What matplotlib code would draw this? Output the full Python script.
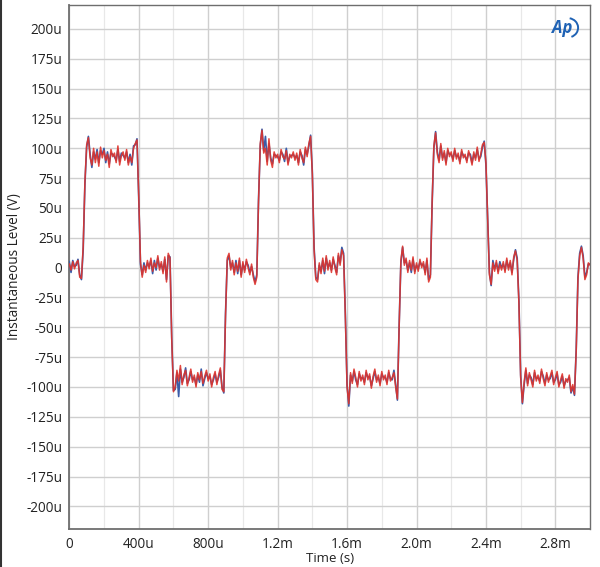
"""Scope-style step trace, two channels overlaid (AP analyzer look)."""

import matplotlib

matplotlib.use("Agg")
import matplotlib.pyplot as plt
from matplotlib.lines import Line2D
from matplotlib.patches import Arc

plt.rcParams["font.family"] = ["Open Sans", "DejaVu Sans"]

# time step of the samples below, microseconds (t = 0 .. 3000 us)
DT_US = 10

# channel 1 (blue), microvolts, one row per 100 us
CH1_UV = [
    5, -4, 6, 1, 2, 7, -6, -10, 15, 70,
    101, 110, 95, 84, 97, 91, 99, 88, 98, 95,
    100, 88, 97, 87, 96, 95, 93, 90, 99, 89,
    96, 94, 92, 97, 88, 95, 86, 102, 103, 108,
    58, 3, -6, 4, -2, 4, 1, 6, -5, 6,
    -2, 8, 0, 3, -3, 7, -10, 10, 9, -58,
    -103, -102, -88, -108, -85, -96, -92, -84, -97, -94,
    -87, -94, -92, -98, -90, -96, -85, -99, -93, -88,
    -93, -91, -98, -94, -89, -96, -92, -86, -100, -105,
    -38, 6, 10, 0, 4, -4, 6, -5, 6, -6,
    3, -2, 5, 2, -4, 1, -6, -12, -6, 57,
    102, 116, 98, 110, 89, 104, 92, 87, 95, 94,
    93, 90, 97, 95, 89, 100, 88, 93, 94, 95,
    92, 94, 88, 97, 94, 86, 99, 95, 102, 111,
    80, 17, -8, -10, 2, -3, 6, -5, 8, 0,
    4, -2, 7, 2, -4, 10, 4, 17, 12, -38,
    -98, -116, -90, -95, -87, -94, -98, -89, -93, -92,
    -96, -88, -92, -91, -99, -93, -87, -94, -92, -97,
    -89, -92, -92, -96, -88, -93, -94, -86, -98, -111,
    -48, 4, 17, 4, 6, -2, 4, -4, 7, -3,
    2, -1, 5, 2, 3, -4, 6, -10, -6, 53,
    100, 114, 97, 90, 102, 92, 96, 88, 98, 95,
    95, 91, 98, 93, 94, 89, 97, 94, 93, 90,
    96, 95, 88, 95, 92, 99, 91, 93, 101, 106,
    86, 42, -4, -15, 6, -1, 4, -3, 5, 0,
    3, -2, 6, 0, 4, -4, 7, 15, 8, -28,
    -90, -114, -98, -86, -97, -90, -92, -98, -88, -93,
    -92, -95, -87, -91, -97, -90, -94, -93, -88, -96,
    -94, -89, -98, -96, -91, -99, -95, -94, -92, -105,
    -100, -107, -68, -8, 12, 18, 10, -8, -4, 3,
    3,
]

# channel 2 (red), microvolts
CH2_UV = [
    3, -2, 5, -1, 4, 6, -8, -9, 18, 72,
    103, 109, 92, 86, 100, 88, 97, 85, 101, 92,
    98, 90, 95, 84, 99, 93, 96, 88, 102, 86,
    94, 97, 90, 99, 86, 93, 88, 100, 104, 107,
    60, 5, -8, 2, -4, 6, -1, 8, -3, 4,
    0, 10, -2, 5, -5, 9, -12, 12, 8, -60,
    -104, -100, -86, -95, -82, -98, -90, -86, -99, -92,
    -85, -96, -90, -100, -88, -94, -87, -97, -91, -86,
    -95, -89, -100, -92, -87, -98, -90, -84, -102, -104,
    -40, 8, 12, -2, 6, -6, 4, -3, 8, -8,
    5, -4, 7, 0, -6, 3, -8, -14, -8, 55,
    104, 115, 96, 100, 86, 108, 90, 84, 97, 92,
    95, 88, 99, 93, 91, 98, 86, 95, 92, 97,
    90, 96, 86, 99, 92, 88, 101, 93, 104, 110,
    78, 15, -10, -12, 4, -5, 8, -3, 10, -2,
    6, -4, 9, 0, -6, 12, 2, 15, 10, -40,
    -100, -114, -88, -97, -85, -92, -100, -87, -95, -90,
    -98, -86, -94, -89, -101, -91, -85, -96, -90, -99,
    -87, -94, -90, -98, -86, -95, -92, -88, -100, -110,
    -50, 6, 18, 2, 8, -4, 6, -2, 9, -5,
    4, -3, 7, 0, 5, -6, 8, -12, -8, 55,
    102, 113, 95, 88, 104, 90, 98, 86, 100, 93,
    97, 89, 100, 91, 96, 87, 99, 92, 95, 88,
    98, 93, 86, 97, 90, 101, 89, 95, 103, 105,
    88, 40, -6, -14, 4, -3, 6, -5, 3, -2,
    5, -4, 8, -2, 6, -6, 9, 14, 6, -30,
    -92, -113, -96, -84, -99, -88, -94, -100, -86, -95,
    -90, -97, -85, -93, -99, -88, -96, -91, -86, -98,
    -92, -87, -100, -94, -89, -101, -93, -96, -90, -104,
    -98, -106, -70, -10, 10, 17, 8, -10, -6, 4,
    2,
]

X_TICKS_US = [0, 400, 800, 1200, 1600, 2000, 2400, 2800]
X_TICK_LABELS = ["0", "400u", "800u", "1.2m", "1.6m", "2.0m", "2.4m", "2.8m"]
Y_TICKS_UV = list(range(-200, 201, 25))
Y_TICK_LABELS = ["0" if v == 0 else f"{v}u" for v in Y_TICKS_UV]

t_us = [i * DT_US for i in range(len(CH1_UV))]

fig = plt.figure(figsize=(6.0, 5.67), dpi=100)
ax = fig.add_axes([0.1155, 0.067, 0.868, 0.924])

ax.plot(t_us, CH1_UV, color="#3a5ca8", lw=1.2, zorder=3)
ax.plot(t_us, CH2_UV, color="#e0332b", lw=1.1, alpha=0.9, zorder=4)

ax.set_xlim(0, 3000)
ax.set_ylim(-219, 220)
ax.set_xticks(X_TICKS_US)
ax.set_xticklabels(X_TICK_LABELS)
ax.set_xticks(range(200, 3000, 400), minor=True)
ax.set_yticks(Y_TICKS_UV)
ax.set_yticklabels(Y_TICK_LABELS)

ax.grid(which="major", color="#cfcfcf", lw=1.0, zorder=0)
ax.grid(which="minor", axis="x", color="#e8e8e8", lw=0.9, zorder=0)
ax.tick_params(which="both", length=0, labelsize=9.8, colors="#222222")
ax.tick_params(axis="x", pad=6)
ax.tick_params(axis="y", pad=5)
for side, sp in ax.spines.items():
    sp.set_color("#6e6e6e")
    sp.set_linewidth(1.0 if side in ("top", "right") else 1.3)

ax.set_xlabel("Time (s)", fontsize=9.5, color="#222222", labelpad=0)
ax.set_ylabel("Instantaneous Level (V)", fontsize=9.8, color="#222222")
ax.yaxis.set_label_coords(-0.091, 0.5)

# AP badge, top right
fig.text(0.9375, 0.951, "Ap", fontsize=12, fontweight="bold", style="italic",
         color="#1f62b4", ha="center", va="center")
fig.add_artist(Arc((0.9465, 0.951), 0.034, 0.034, theta1=-70, theta2=80,
                   transform=fig.transFigure, color="#1f62b4", lw=1.4))

# window edge on the left
fig.add_artist(Line2D([0.0015, 0.0015], [0, 1], transform=fig.transFigure,
                      color="#333333", lw=1.5))

fig.savefig("out.png", dpi=100)
